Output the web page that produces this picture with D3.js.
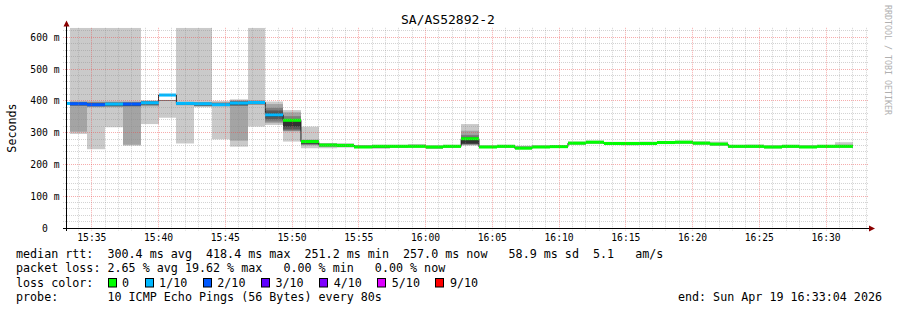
<!DOCTYPE html>
<html><head><meta charset="utf-8">
<script src="https://cdn.jsdelivr.net/npm/d3@7"></script>
<style>
html,body{margin:0;padding:0;background:#fff;}
svg{display:block;}
text{font-family:"DejaVu Sans Mono",monospace;white-space:pre;}
</style></head><body>
<svg id="chart" width="897" height="310"></svg>
<script>
// ---------------- data ----------------
const title = "SA/AS52892-2";
const yAxisTitle = "Seconds";
const watermark = "RRDTOOL / TOBI OETIKER";
const windowStart = new Date(2026, 3, 19, 15, 33, 4);
const windowEnd = new Date(2026, 3, 19, 16, 33, 4);
const firstStepStart = new Date(2026, 3, 19, 15, 32, 0);
const stepSeconds = 80;
const yMax = 630;
const yTickValues = [0, 100, 200, 300, 400, 500, 600];
const yTickLabels = ["0\u00a0\u00a0", "100 m", "200 m", "300 m", "400 m", "500 m", "600 m"];

// median rtt per 80 s step (ms)
const medians = [392, 391, 388, 390, 390, 394, 418.4, 392, 391, 388, 393, 395, 356, 339, 272,
  261, 260, 255, 257, 257, 257, 255, 257, 281, 255, 257, 251.2, 255, 256, 267, 270, 266, 266,
  266, 269, 270, 267, 264, 257, 257, 255, 257, 255, 257, 257];
// lost pings (out of 10) per step
const losses = [1, 2, 2, 1, 2, 1, 1, 1, 1, 1, 1, 1, 1, 0, 0,
  0, 0, 0, 0, 0, 0, 0, 0, 0, 0, 0, 0, 0, 0, 0, 0, 0, 0,
  0, 0, 0, 0, 0, 0, 0, 0, 0, 0, 0, 0];
// sorted ping times per step (ms); null = beyond top of graph
const pings = [
  null,
  [296, 303, 384, 386, 388, 393, 395, 397, 398, null],
  [248, 380, 382, 384, 386, 391, 393, 396, 398, null],
  [317, 380, 382, 384, 386, 392, 394, 396, 398, null],
  [259, 262, 382, 384, 386, 392, 394, 396, 398, null],
  [327, 383, 386, 388, 390, 396, 398, 399, 400, 402],
  [347, 401, 401, 401, 401, 402, 402, 402, 402, 403],
  [266, 386, 387, 388, 389, 394, 395, 396, 397, null],
  [380, 383, 384, 385, 387, 393, 394, 395, 396, null],
  [279, 383, 384, 385, 386, 390, 392, 394, 396, 400],
  [256, 275, 384, 386, 388, 396, 398, 400, 402, 405],
  [319, 388, 389, 390, 392, 398, 399, 400, 402, null],
  [324, 330, 335, 342, 350, 362, 370, 378, 390, 398],
  [272, 304, 306, 310, 319, 336, 340, 352, 364, 371],
  [251, 260, 262, 264, 266, 275, 276, 277, 278, 319],
  [251, 255, 257, 258, 259, 263, 264, 265, 266, 267],
  [253, 255, 256, 257, 258, 262, 263, 264, 265, 266],
  [251, 252, 253, 254, 254, 257, 258, 259, 260, 261],
  [250, 251, 252, 253, 254, 258, 259, 260, 261, 262],
  [252, 253, 254, 255, 256, 258, 259, 260, 261, 262],
  [253, 254, 255, 255, 256, 258, 259, 260, 262, 264],
  [249, 250, 251, 252, 253, 256, 257, 258, 259, 260],
  [252, 253, 254, 255, 256, 258, 259, 260, 261, 262],
  [259, 262, 263, 264, 266, 283, 287, 293, 306, 327],
  [251, 252, 253, 254, 254, 256, 257, 258, 259, 260],
  [252, 253, 254, 255, 256, 258, 259, 260, 261, 262],
  [248, 249, 249, 250, 250, 253, 255, 256, 257, 259],
  [251, 252, 253, 253, 254, 256, 257, 258, 259, 260],
  [252, 253, 254, 254, 255, 257, 258, 259, 260, 261],
  [262, 263, 264, 265, 266, 268, 269, 270, 271, 272],
  [265, 266, 267, 268, 269, 271, 272, 273, 274, 275],
  [261, 262, 263, 263, 264, 267, 268, 269, 270, 271],
  [260, 261, 262, 263, 264, 267, 268, 269, 270, 271],
  [261, 262, 263, 264, 264, 267, 268, 269, 270, 272],
  [264, 265, 266, 267, 268, 270, 271, 272, 273, 274],
  [265, 266, 267, 268, 269, 271, 272, 273, 274, 275],
  [262, 263, 264, 265, 266, 268, 269, 270, 271, 273],
  [259, 260, 261, 262, 263, 265, 266, 267, 268, 272],
  [252, 253, 254, 255, 256, 258, 259, 260, 261, 262],
  [252, 253, 254, 255, 256, 258, 259, 260, 261, 263],
  [250, 251, 252, 253, 254, 256, 257, 258, 259, 260],
  [252, 253, 254, 255, 256, 258, 259, 260, 261, 262],
  [251, 252, 252, 253, 254, 256, 257, 258, 259, 261],
  [252, 253, 254, 255, 256, 258, 259, 260, 261, 262],
  [253, 254, 254, 255, 256, 258, 259, 260, 262, 270]
];

const smokeColors = ["#cacaca", "#a4a4a4", "#7e7e7e", "#585858", "#323232"];
const lossLevels = [0, 1, 2, 3, 4, 5, 9];
const lossLabels = ["0", "1/10", "2/10", "3/10", "4/10", "5/10", "9/10"];
const lossColors = ["#00ff00", "#00b8ff", "#0059ff", "#5e00ff", "#7e00ff", "#dd00ff", "#ff0000"];

const legendLine1 = "median rtt:  300.4 ms avg  418.4 ms max  251.2 ms min  257.0 ms now   58.9 ms sd  5.1   am/s";
const legendLine2 = "packet loss: 2.65 % avg 19.62 % max   0.00 % min   0.00 % now";
const legendLine3 = "loss color:";
const legendLine4 = "probe:       10 ICMP Echo Pings (56 Bytes) every 80s";
const endText = "end: Sun Apr 19 16:33:04 2026";

// ---------------- layout ----------------
const svg = d3.select("#chart");
const plotL = 66, plotR = 867, plotT = 27.8, plotB = 228;
const x = d3.scaleTime().domain([windowStart, windowEnd]).range([plotL, plotR]);
const y = d3.scaleLinear().domain([0, yMax]).range([plotB, plotT]);

svg.append("rect").attr("width", 897).attr("height", 310).attr("fill", "#fff");

svg.append("defs").append("clipPath").attr("id", "clip")
  .append("rect").attr("x", 67).attr("y", plotT).attr("width", 868.5 - 67).attr("height", plotB - plotT);

const g = svg.append("g").attr("clip-path", "url(#clip)");

const steps = medians.map((m, i) => ({
  start: d3.timeSecond.offset(firstStepStart, i * stepSeconds),
  end: d3.timeSecond.offset(firstStepStart, (i + 1) * stepSeconds),
  median: m, loss: losses[i], pings: pings[i]
}));

// smoke
steps.forEach(s => {
  if (!s.pings) return;
  const x0 = Math.round(x(s.start)), x1 = Math.round(x(s.end));
  for (let k = 0; k < 5; k++) {
    const lo = s.pings[k];
    const hiV = s.pings[9 - k];
    const hi = hiV === null ? yMax : hiV;
    g.append("rect")
      .attr("x", x0).attr("width", x1 - x0)
      .attr("y", y(hi)).attr("height", Math.max(0, y(lo) - y(hi)))
      .attr("fill", smokeColors[k]);
  }
});

// median black line
const linePts = steps.map(s => [x(s.start), y(s.median)]);
linePts.push([x(steps[steps.length - 1].end), y(steps[steps.length - 1].median)]);
g.append("path")
  .attr("d", d3.line().curve(d3.curveStepAfter)(linePts))
  .attr("fill", "none").attr("stroke", "#202020").attr("stroke-width", 1);

// median loss-colored band
function lossColor(l) {
  for (let i = 0; i < lossLevels.length; i++) if (l <= lossLevels[i]) return lossColors[i];
  return lossColors[lossColors.length - 1];
}
steps.forEach(s => {
  const x0 = Math.round(x(s.start)), x1 = Math.round(x(s.end));
  g.append("rect")
    .attr("x", x0).attr("width", x1 - x0)
    .attr("y", y(s.median) - 1.5).attr("height", 3)
    .attr("fill", lossColor(s.loss));
});

// grid (drawn over graph, rrdtool style)
const grid = svg.append("g");
const minorCol = "rgba(140,140,140,0.38)";
const majorCol = "rgba(235,70,70,0.45)";
const snap = v => Math.floor(v) + 0.5;
d3.range(20, yMax, 20).forEach(v => {
  const major = v % 100 === 0;
  grid.append("line")
    .attr("x1", 63).attr("x2", 868.5).attr("y1", snap(y(v))).attr("y2", snap(y(v)))
    .attr("stroke", major ? majorCol : minorCol).attr("stroke-dasharray", "1,1");
});
x.ticks(d3.timeMinute.every(1)).forEach(t => {
  const major = t.getMinutes() % 5 === 0;
  grid.append("line")
    .attr("y1", plotT).attr("y2", 230.5).attr("x1", snap(x(t))).attr("x2", snap(x(t)))
    .attr("stroke", major ? majorCol : minorCol).attr("stroke-dasharray", "1,1");
});

// axes
svg.append("line").attr("x1", 63).attr("x2", 870).attr("y1", 228.5).attr("y2", 228.5)
  .attr("stroke", "#000").attr("stroke-width", 1);
svg.append("line").attr("x1", 66.5).attr("x2", 66.5).attr("y1", 231).attr("y2", 25)
  .attr("stroke", "#000").attr("stroke-width", 1);
svg.append("path").attr("d", "M63.5,26.5L69.5,26.5L66.5,20.5Z").attr("fill", "#8b0000");
svg.append("path").attr("d", "M869,225.5L869,231.5L875,228.5Z").attr("fill", "#8b0000");

// y tick labels
yTickValues.forEach((v, i) => {
  svg.append("text").attr("x", 59.5).attr("y", y(v) + 3.5)
    .attr("text-anchor", "end").attr("font-size", "9.7px").attr("fill", "#000")
    .text(yTickLabels[i]);
});
// x tick labels
const fmt = d3.timeFormat("%H:%M");
x.ticks(d3.timeMinute.every(5)).forEach(t => {
  svg.append("text").attr("x", x(t)).attr("y", 241)
    .attr("text-anchor", "middle").attr("font-size", "9.7px").attr("fill", "#000")
    .text(fmt(t));
});

// title and axis title
svg.append("text").attr("x", 448).attr("y", 23.5).attr("text-anchor", "middle")
  .attr("font-size", "13px").attr("fill", "#000").text(title);
svg.append("text").attr("transform", "translate(15.5,128) rotate(-90)")
  .attr("text-anchor", "middle").attr("font-size", "11.7px").attr("fill", "#000").text(yAxisTitle);
svg.append("text").attr("transform", "translate(884.5,5) rotate(90)")
  .attr("text-anchor", "start").attr("font-size", "8.3px").attr("fill", "#b0b0b0").text(watermark);

// legend
const lf = "11.7px";
const adv = 11.7 * 0.602;
svg.append("text").attr("x", 16).attr("y", 258).attr("font-size", lf).attr("xml:space", "preserve").text(legendLine1);
svg.append("text").attr("x", 16).attr("y", 272).attr("font-size", lf).attr("xml:space", "preserve").text(legendLine2);
svg.append("text").attr("x", 16).attr("y", 286.5).attr("font-size", lf).text(legendLine3);
let bx = 16 + 13 * adv;
lossLabels.forEach((lab, i) => {
  svg.append("rect").attr("x", Math.round(bx) + 0.5).attr("y", 278.5).attr("width", 8).attr("height", 8.5)
    .attr("fill", lossColors[i]).attr("stroke", "#000").attr("stroke-width", 1);
  const lx = bx + 14.5;
  svg.append("text").attr("x", lx).attr("y", 286.5).attr("font-size", lf).text(lab);
  bx = lx + lab.length * adv + 15.5;
});
svg.append("text").attr("x", 16).attr("y", 300.5).attr("font-size", lf).attr("xml:space", "preserve").text(legendLine4);
svg.append("text").attr("x", 882).attr("y", 300.5).attr("text-anchor", "end").attr("font-size", lf).text(endText);
</script>
</body></html>
